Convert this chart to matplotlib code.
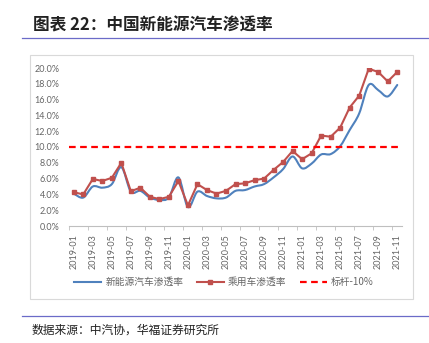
import numpy as np
import pandas as pd
import matplotlib
matplotlib.use("Agg")
import matplotlib.pyplot as plt
from matplotlib.path import Path
from matplotlib.patches import PathPatch, Rectangle
from matplotlib.lines import Line2D

plt.rcParams["font.family"] = ["Lato", "Noto Sans CJK SC", "DejaVu Sans"]

months = [p.strftime("%Y-%m") for p in pd.period_range("2019-01", "2021-11", freq="M")]

# 新能源汽车渗透率 (%)
nev_rate = [4.1, 3.6, 5.0, 4.85, 5.3, 7.45, 4.35, 4.45, 3.6, 3.3, 3.6, 6.15,
            2.4, 4.35, 3.8, 3.5, 3.6, 4.45, 4.55, 5.0, 5.3, 6.15, 7.2, 8.8,
            7.3, 7.9, 9.05, 9.1, 10.1, 12.15, 14.25, 17.85, 17.2, 16.4, 17.85]
# 乘用车渗透率 (%)
pv_rate = [4.27, 4.0, 5.95, 5.7, 6.1, 8.0, 4.4, 4.85, 3.7, 3.4, 3.7, 5.7,
           2.6, 5.3, 4.55, 4.1, 4.45, 5.3, 5.4, 5.8, 6.0, 7.1, 8.1, 9.5,
           8.45, 9.2, 11.45, 11.3, 12.45, 15.0, 16.5, 19.9, 19.5, 18.3, 19.5]
benchmark = 10.0

blue = "#4F81BD"
red = "#C0504D"
grey_txt = "#666666"
rule_col = "#6B6BC8"

fig = plt.figure(figsize=(4.29, 3.43), dpi=100)

# title and rules
fig.text(33 / 429, 1 - 25 / 343, "图表 22：中国新能源汽车渗透率", fontsize=12,
         fontweight="bold", family=["Noto Sans CJK SC"], va="center", ha="left", color="#222222")
fig.add_artist(Line2D([22 / 429, 1], [1 - 38 / 343] * 2, color=rule_col, lw=0.9))
fig.add_artist(Line2D([22 / 429, 1], [1 - 316 / 343] * 2, color=rule_col, lw=0.9))
fig.text(32 / 429, 1 - 330 / 343, "数据来源：中汽协，华福证券研究所", fontsize=8.5,
         family=["Noto Sans CJK SC"], va="center", ha="left", color="#222222")

# chart frame
fig.add_artist(Rectangle((30 / 429, 1 - 299 / 343), 383 / 429, 244 / 343,
                         transform=fig.transFigure, fill=False, ec="#D9D9D9", lw=0.8))

ax = fig.add_axes([69 / 429, 1 - 226 / 343, 333 / 429, 158 / 343])
x = np.arange(len(months))

# smooth blue line as bezier curves (Excel style smoothing)
y = np.array(nev_rate)
verts = [(x[0], y[0])]
codes = [Path.MOVETO]
n = len(x)
for i in range(n - 1):
    p0 = np.array([x[max(i - 1, 0)], y[max(i - 1, 0)]])
    p1 = np.array([x[i], y[i]])
    p2 = np.array([x[i + 1], y[i + 1]])
    p3 = np.array([x[min(i + 2, n - 1)], y[min(i + 2, n - 1)]])
    c1 = p1 + (p2 - p0) / 6
    c2 = p2 - (p3 - p1) / 6
    verts += [tuple(c1), tuple(c2), tuple(p2)]
    codes += [Path.CURVE4] * 3
ax.add_patch(PathPatch(Path(verts, codes), fill=False, ec=blue, lw=1.5, capstyle="round",
                       joinstyle="round"))

ax.plot(x, pv_rate, color=red, lw=1.5, marker="s", ms=3.3)
ax.axhline(benchmark, color="#FF0000", lw=1.6, ls=(0, (3, 2)))

ax.set_xlim(-0.5, n - 0.5)
ax.set_ylim(0, 20)
ax.set_yticks(np.arange(0, 21, 2))
ax.set_yticklabels([f"{v:.1f}%" for v in np.arange(0, 21, 2)])
ax.set_xticks(x[::2])
ax.set_xticklabels(months[::2], rotation=90)
ax.set_xticks(np.arange(-0.5, n, 2), minor=True)
ax.tick_params(axis="x", which="major", length=0, pad=6, labelsize=6.5, labelcolor=grey_txt)
ax.tick_params(axis="x", which="minor", length=3, color="#BFBFBF")
ax.tick_params(axis="y", length=0, pad=7, labelsize=6.5, labelcolor=grey_txt)
for s in ["top", "right", "left"]:
    ax.spines[s].set_visible(False)
ax.spines["bottom"].set_color("#BFBFBF")
ax.set_facecolor("none")

handles = [
    Line2D([], [], color=blue, lw=1.5),
    Line2D([], [], color=red, lw=1.5, marker="s", ms=3.3),
    Line2D([], [], color="#FF0000", lw=1.6, ls=(0, (3, 2))),
]
fig.legend(handles, ["新能源汽车渗透率", "乘用车渗透率", "标杆-10%"], loc="center",
           bbox_to_anchor=(224 / 429, 1 - 282 / 343), ncol=3, frameon=False,
           prop={"family": ["Noto Sans CJK SC"], "size": 7}, labelcolor=grey_txt,
           handlelength=2.8, columnspacing=1.4, handletextpad=0.4)

fig.savefig("out.png", dpi=100)
